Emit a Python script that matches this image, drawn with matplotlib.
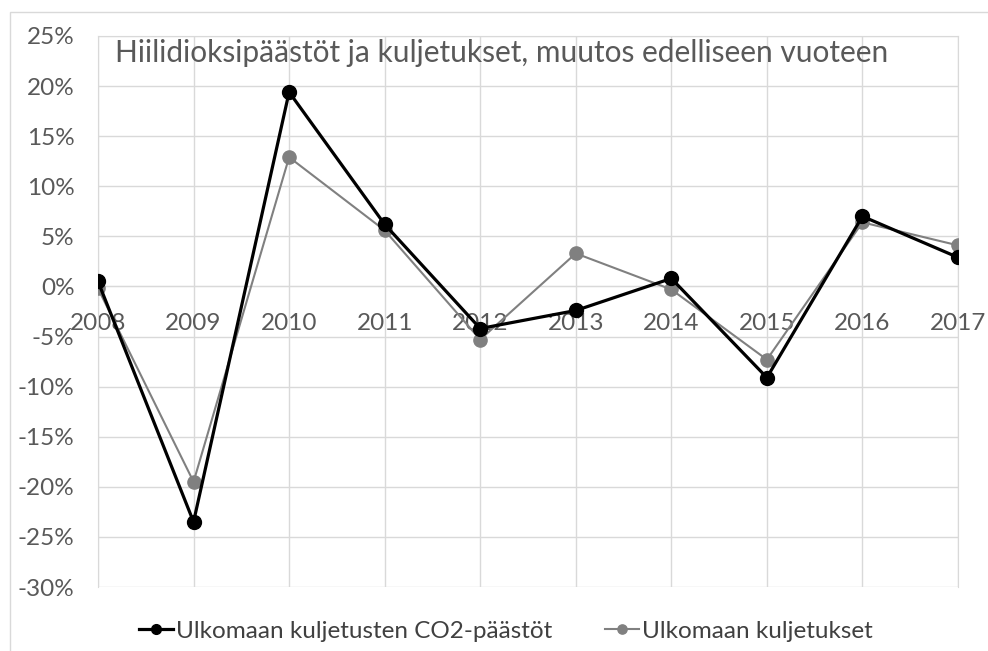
import matplotlib.pyplot as plt
from matplotlib.patches import Rectangle
from matplotlib.ticker import FuncFormatter

years = ["2008", "2009", "2010", "2011", "2012", "2013", "2014", "2015", "2016", "2017"]
co2 = [0.5, -23.5, 19.4, 6.2, -4.2, -2.4, 0.8, -9.1, 7.0, 2.9]
transport = [-0.2, -19.5, 12.9, 5.6, -5.3, 3.3, -0.3, -7.3, 6.4, 4.1]

title = "Hiilidioksipäästöt ja kuljetukset, muutos edelliseen vuoteen"
label_co2 = "Ulkomaan kuljetusten CO2-päästöt"
label_transport = "Ulkomaan kuljetukset"

plt.rcParams["font.family"] = ["Lato", "DejaVu Sans"]
text_color = "#595959"
grid_color = "#d9d9d9"

fig = plt.figure(figsize=(9.88, 6.51), dpi=100)
fig.patches.append(Rectangle((10 / 988, -0.1), 1.2, 1.1 - 12 / 651,
                             transform=fig.transFigure, fill=False,
                             edgecolor=grid_color, linewidth=1))

ax = fig.add_axes([98 / 988, 1 - 587 / 651, 860 / 988, 551 / 651])
x = list(range(len(years)))

ax.plot(x, co2, color="black", linewidth=2.3, marker="o", markersize=10,
        label=label_co2, zorder=4)
ax.plot(x, transport, color="#808080", linewidth=1.5, marker="o", markersize=9.5,
        label=label_transport, zorder=3)

ax.set_xlim(0, 9)
ax.set_ylim(-30, 25)
ax.set_yticks(range(-30, 30, 5))
ax.yaxis.set_major_formatter(FuncFormatter(lambda v, p: f"{v:.0f}%"))
ax.set_xticks(x)
ax.set_xticklabels(years)

for s in ["top", "right", "left"]:
    ax.spines[s].set_color(grid_color)
ax.spines["bottom"].set_position(("data", 0))
ax.spines["bottom"].set_color(grid_color)
ax.grid(True, color=grid_color, linewidth=1)
ax.set_axisbelow(True)
ax.tick_params(axis="both", length=0, colors=text_color)
ax.tick_params(axis="y", pad=17, labelsize=17.5)
ax.tick_params(axis="x", pad=19, labelsize=17.5)

ax.text(0.02, 0.995, title, transform=ax.transAxes, ha="left", va="top",
        fontsize=21.5, color=text_color)

leg = fig.legend(loc="center", bbox_to_anchor=(0.512, 1 - 631 / 651), ncol=2,
                 frameon=False, fontsize=17.5, handlelength=1.4, handletextpad=0.1,
                 columnspacing=2.2, markerscale=0.7)
for t in leg.get_texts():
    t.set_color("#404040")

plt.savefig("out.png", dpi=100)
